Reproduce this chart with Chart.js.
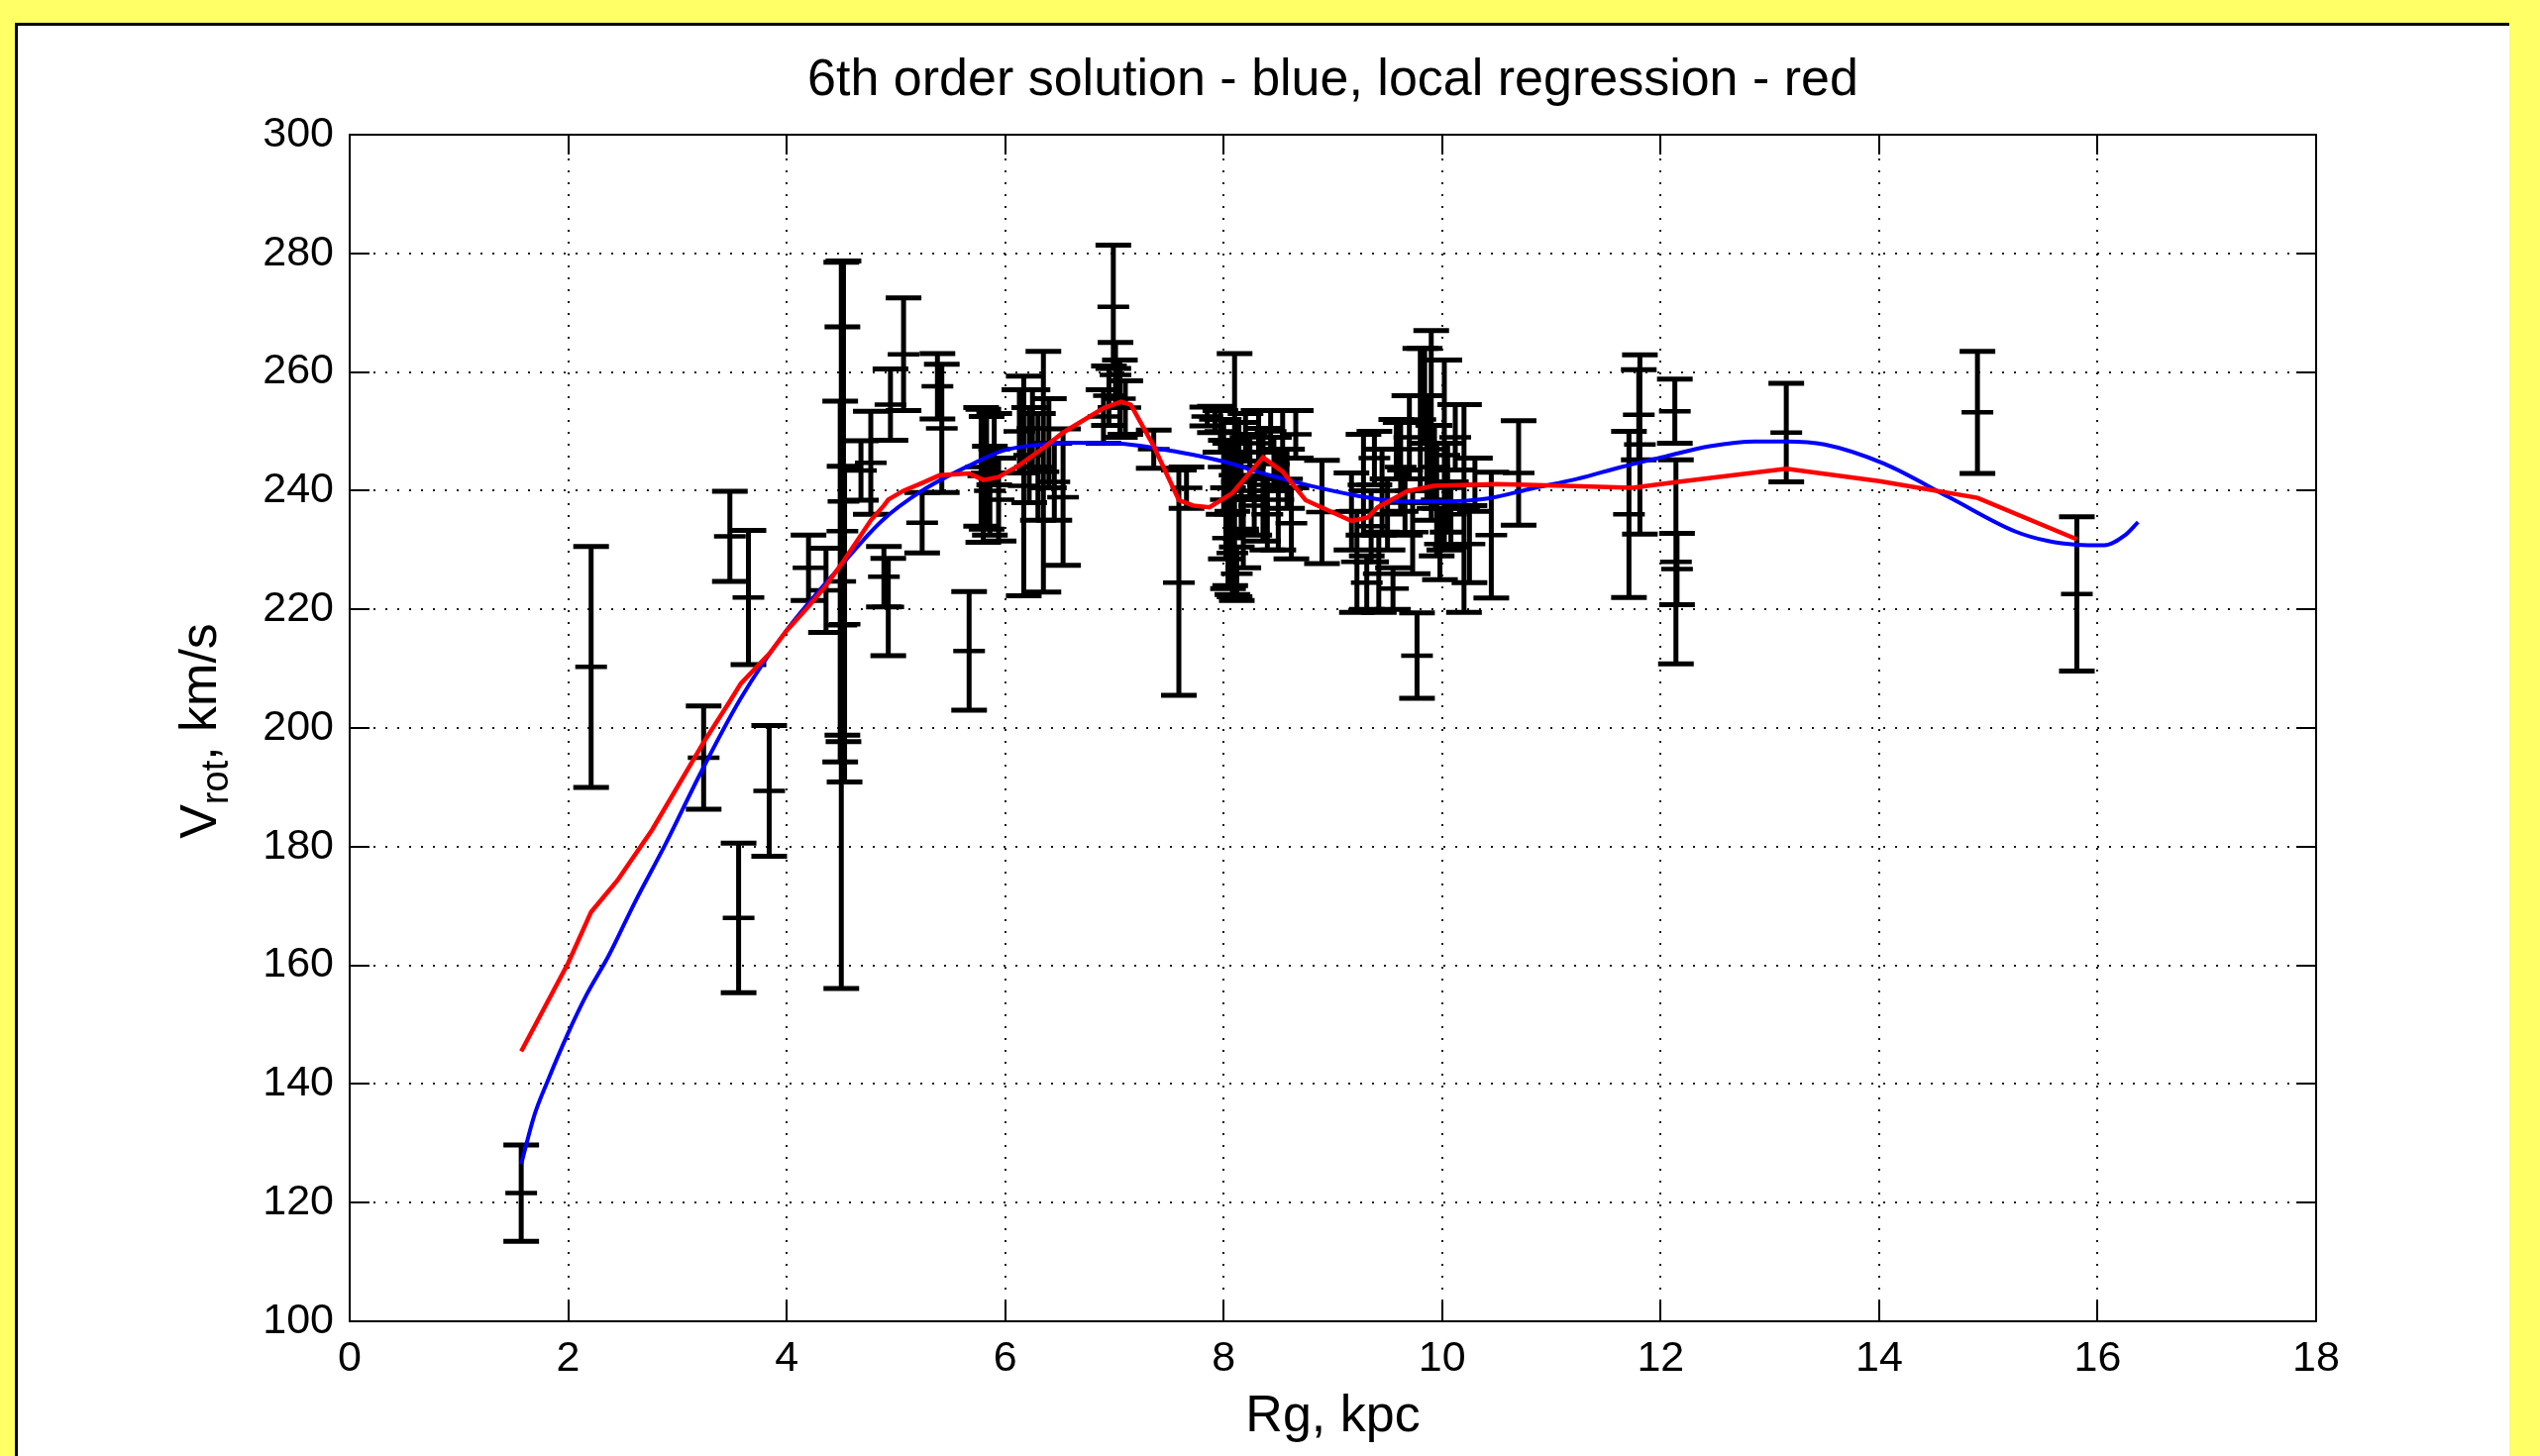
<!DOCTYPE html>
<html><head><meta charset="utf-8">
<script src="https://cdn.jsdelivr.net/npm/chart.js@4.4.1/dist/chart.umd.min.js"></script>
<style>
html,body{margin:0;padding:0;background:#ffff66;overflow:hidden;}
canvas{display:block;}
</style></head><body>
<canvas id="c" width="2564" height="1470"></canvas>
<script>
// ---------- text ----------
const titleText = '6th order solution - blue, local regression - red';
const xTitleText = 'Rg, kpc';
const yTitleParts = ['V', 'rot', ', km/s'];

// ---------- ticks ----------
const xTickValues = [0, 2, 4, 6, 8, 10, 12, 14, 16, 18];
const yTickValues = [100, 120, 140, 160, 180, 200, 220, 240, 260, 280, 300];

// ---------- error-bar observations: Rg (kpc), Vrot (km/s), half error ----------
const obsR = [1.57,2.21,3.24,3.48,3.56,3.65,3.84,4.20,4.36,4.50,4.51,4.52,4.49,4.53,4.68,4.77,4.89,4.93,4.95,5.07,
  5.24,5.38,5.42,5.67,5.78,5.80,5.83,5.86,5.90,5.94,6.13,6.17,6.22,6.25,6.30,6.35,6.40,6.45,6.53,6.90,
  6.95,6.99,7.01,7.05,7.10,7.36,7.59,7.66,7.85,7.92,7.97,8.00,8.02,8.04,8.06,8.08,8.10,8.12,8.14,8.16,
  8.18,8.20,8.24,8.28,8.32,8.36,8.40,8.43,8.46,8.50,8.54,8.58,8.62,8.66,8.90,9.17,9.22,9.28,9.31,9.35,
  9.38,9.42,9.45,9.50,9.55,9.58,9.62,9.66,9.70,9.73,9.77,9.80,9.84,9.86,9.90,9.93,9.95,9.98,10.02,10.05,
  10.08,10.12,10.20,10.25,10.30,10.45,10.70,11.71,11.80,11.81,12.13,12.14,12.15,13.15,14.90,15.81];
const obsV = [121.6,210.3,195.0,232.3,168.0,222.0,189.4,227.0,223.2,217.3,233.2,238.2,224.7,217.5,243.4,244.7,225.5,220.4,254.5,263.0,
  234.6,257.6,250.5,213.0,244.0,242.5,243.0,240.0,247.0,238.5,250.0,240.8,246.0,250.5,244.0,243.2,248.0,241.5,238.9,252.5,
  256.0,271.0,259.5,255.5,254.0,247.0,224.5,240.5,252.5,252.0,250.0,244.0,238.5,232.0,236.0,229.5,242.6,226.0,246.5,240.0,
  233.0,249.0,244.0,237.5,248.0,241.0,236.0,250.0,244.5,238.5,247.0,242.0,234.5,249.5,236.4,236.5,228.0,241.0,224.5,234.0,
  245.5,226.0,240.0,236.0,223.5,247.0,244.0,238.0,249.0,233.0,212.2,252.0,256.0,247.0,251.0,244.0,238.5,231.0,246.0,240.5,
  236.0,249.0,237.0,231.0,241.0,232.5,243.0,236.0,252.8,247.8,253.4,228.0,226.8,249.8,253.2,222.6];
const obsErr = [8.1,20.3,8.7,7.6,12.6,11.3,11.0,5.5,7.1,61.2,34.4,40.5,30.4,26.6,5.0,8.7,5.1,8.2,6.0,9.5,
  5.1,5.5,10.8,10.0,10.0,11.2,9.5,7.5,6.0,7.0,7.0,18.5,8.0,6.5,9.0,20.3,7.5,6.5,11.5,4.5,
  5.0,10.4,5.5,6.5,4.5,3.2,19.0,3.5,1.6,2.2,3.5,8.0,10.0,8.5,12.0,7.0,20.5,4.5,5.0,6.5,
  6.0,4.0,5.5,5.0,5.5,9.5,6.0,3.5,4.5,8.5,6.5,5.0,6.0,4.0,8.7,6.5,8.5,8.5,4.5,6.0,
  4.5,6.5,7.0,6.0,3.5,5.0,7.5,5.5,7.0,7.0,7.2,12.0,8.0,9.0,16.0,7.0,9.5,6.0,16.0,7.5,
  5.5,5.5,17.5,6.5,4.5,10.6,8.8,14.0,7.6,15.1,5.4,17.2,6.0,8.3,10.3,13.0];

// ---------- 6th order solution (blue) ----------
const polyR = [1.57,1.69,1.81,2.0,2.17,2.37,2.61,2.89,3.22,3.58,4.0,4.48,4.87,5.24,5.69,5.99,6.29,6.6,7.0,7.59,
  8.0,8.4,8.8,9.21,9.61,10.02,10.42,10.83,11.24,11.64,12.05,12.45,12.86,13.15,13.5,14.04,14.64,15.25,15.55,15.81,16.06,16.25,16.37];
const polyV = [126.5,134.7,140.4,148.6,155.1,161.6,170.6,180.4,192.7,205.0,216.5,227.0,234.9,240.0,244.4,246.8,247.7,248.1,248.0,246.5,
  244.9,242.7,240.8,239.2,238.2,238.2,238.7,240.4,242.0,244.0,245.8,247.5,248.3,248.3,247.8,244.6,238.9,233.1,231.5,230.9,230.8,232.5,234.7];

// ---------- local regression (red) ----------
const locR = [1.57,2.0,2.21,2.45,2.77,3.24,3.48,3.58,3.84,4.0,4.2,4.36,4.5,4.68,4.77,4.89,4.93,5.07,5.24,5.4,
  5.67,5.8,5.94,6.13,6.35,6.53,6.9,7.06,7.15,7.36,7.59,7.72,7.87,8.08,8.36,8.54,8.75,9.17,9.32,9.41,
  9.53,9.68,9.92,10.5,11.13,11.74,12.16,13.15,14.0,14.9,15.81];
const locV = [145.5,160.4,169.0,174.3,182.9,197.6,204.5,207.5,212.5,216.4,220.5,224.0,227.6,232.5,235.0,237.5,238.5,240.0,241.3,242.6,
  242.9,241.8,242.3,244.3,247.2,249.8,253.9,255.0,254.5,247.5,238.4,237.5,237.2,239.6,245.6,243.2,238.4,234.9,235.5,237.2,
  238.4,239.9,240.8,241.1,240.8,240.5,241.5,243.7,241.6,238.8,231.8];

// ---------- build datasets from the arrays ----------
const pts = (xs, ys) => xs.map((x, i) => ({x: x, y: ys[i]}));
const stemData = [];
const capData = [];
const midData = [];
obsR.forEach((r, i) => {
  const lo = obsV[i] - obsErr[i], hi = obsV[i] + obsErr[i];
  stemData.push({x: r, y: lo}, {x: r, y: hi}, {x: r, y: null});
  capData.push({x: r, y: lo}, {x: r, y: hi});
  midData.push({x: r, y: obsV[i]});
});

const FONT = '"Liberation Sans", Arial, Helvetica, sans-serif';

const panelPlugin = {
  id: 'panel',
  beforeDraw(chart) {
    const ctx = chart.ctx, W = chart.width, H = chart.height;
    ctx.save();
    ctx.fillStyle = '#ffff66';
    ctx.fillRect(0, 0, W, H);
    ctx.fillStyle = '#ffffff';
    ctx.fillRect(15, 23, 2533 - 15, H - 23);
    ctx.fillStyle = '#000000';
    ctx.fillRect(15, 23, 2533 - 15, 3);
    ctx.fillRect(15, 23, 3, H - 23);
    ctx.restore();
  }
};

const boxPlugin = {
  id: 'axesBox',
  afterDatasetsDraw(chart) {
    const ctx = chart.ctx, a = chart.chartArea;
    const xs = chart.scales.x, ys = chart.scales.y;
    const tl = 20;
    ctx.save();
    ctx.strokeStyle = '#000';
    ctx.lineWidth = 2;
    ctx.strokeRect(a.left, a.top, a.right - a.left, a.bottom - a.top);
    ctx.beginPath();
    xs.ticks.forEach(t => {
      const p = Math.round(xs.getPixelForValue(t.value));
      ctx.moveTo(p, a.bottom); ctx.lineTo(p, a.bottom - tl);
      ctx.moveTo(p, a.top); ctx.lineTo(p, a.top + tl);
    });
    ys.ticks.forEach(t => {
      const p = Math.round(ys.getPixelForValue(t.value));
      ctx.moveTo(a.left, p); ctx.lineTo(a.left + tl, p);
      ctx.moveTo(a.right, p); ctx.lineTo(a.right - tl, p);
    });
    ctx.stroke();
    ctx.restore();
  }
};

const yTitlePlugin = {
  id: 'yTitle',
  afterDraw(chart) {
    const ctx = chart.ctx, ys = chart.scales.y;
    const big = '52px ' + FONT, small = '38px ' + FONT;
    ctx.save();
    ctx.fillStyle = '#000';
    ctx.font = big;
    const w0 = ctx.measureText(yTitleParts[0]).width;
    const w2 = ctx.measureText(yTitleParts[2]).width;
    ctx.font = small;
    const w1 = ctx.measureText(yTitleParts[1]).width;
    const total = w0 + w1 + w2;
    const cy = (ys.top + ys.bottom) / 2 + 3;
    ctx.translate(218, cy);
    ctx.rotate(-Math.PI / 2);
    ctx.textBaseline = 'alphabetic';
    ctx.textAlign = 'left';
    let x = -total / 2;
    ctx.font = big; ctx.fillText(yTitleParts[0], x, 0); x += w0;
    ctx.font = small; ctx.fillText(yTitleParts[1], x, 12); x += w1;
    ctx.font = big; ctx.fillText(yTitleParts[2], x, 0);
    ctx.restore();
  }
};

new Chart(document.getElementById('c'), {
  type: 'scatter',
  data: {
    datasets: [
      {label: 'local regression', data: pts(locR, locV), showLine: true, borderColor: '#ff0000',
        borderWidth: 4.5, pointRadius: 0, tension: 0, fill: false},
      {label: '6th order solution', data: pts(polyR, polyV), showLine: true, borderColor: '#0000ff',
        borderWidth: 4, pointRadius: 0, cubicInterpolationMode: 'monotone', fill: false},
      {label: 'caps', data: capData, showLine: false, pointStyle: 'line', pointRadius: 18,
        pointBorderColor: '#000', borderColor: '#000', pointBorderWidth: 5, pointBackgroundColor: '#000'},
      {label: 'centres', data: midData, showLine: false, pointStyle: 'line', pointRadius: 16,
        pointBorderColor: '#000', borderColor: '#000', pointBorderWidth: 4.5, pointBackgroundColor: '#000'},
      {label: 'errors', data: stemData, showLine: true, spanGaps: false, borderColor: '#000',
        borderWidth: 5, pointRadius: 0, tension: 0, fill: false}
    ]
  },
  options: {
    responsive: false,
    animation: false,
    devicePixelRatio: 1,
    events: [],
    layout: {padding: {left: 0, top: 0, right: 226, bottom: 0}},
    plugins: {
      legend: {display: false},
      tooltip: {enabled: false},
      title: {display: true, text: titleText, fullSize: false, color: '#000',
        font: {family: FONT, size: 52, weight: 'normal'}, padding: {top: 50.8, bottom: 22.8}}
    },
    scales: {
      x: {
        type: 'linear', min: 0, max: 18,
        afterBuildTicks: s => { s.ticks = xTickValues.map(v => ({value: v})); },
        afterFit: s => { s.height = 136; },
        ticks: {color: '#000', font: {family: FONT, size: 43}, padding: 12, maxRotation: 0, autoSkip: false},
        grid: {color: 'rgba(0,0,0,0.9)', lineWidth: 2, drawTicks: false},
        border: {display: false, dash: [2, 10]},
        title: {display: true, text: xTitleText, color: '#000', font: {family: FONT, size: 52, weight: 'normal'},
          padding: {top: 0, bottom: 8}}
      },
      y: {
        type: 'linear', min: 100, max: 300,
        afterBuildTicks: s => { s.ticks = yTickValues.map(v => ({value: v})); },
        afterFit: s => { s.width = 353; },
        ticks: {color: '#000', font: {family: FONT, size: 43}, padding: 16, autoSkip: false},
        grid: {color: 'rgba(0,0,0,0.9)', lineWidth: 2, drawTicks: false},
        border: {display: false, dash: [2, 10]},
        title: {display: false}
      }
    }
  },
  plugins: [panelPlugin, boxPlugin, yTitlePlugin]
});
</script>
</body></html>
